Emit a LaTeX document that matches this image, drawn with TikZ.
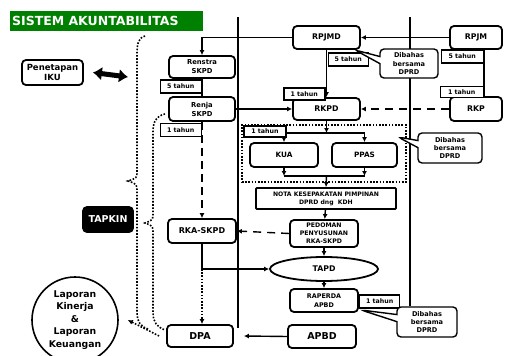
\documentclass[tikz,border=0pt]{standalone}
\usepackage{fontspec}
\setmainfont{DejaVu Sans}
\usepackage{tikz}
\usetikzlibrary{shapes,arrows,arrows.meta}
\usetikzlibrary{shapes.callouts}
\usetikzlibrary{calc}
\usetikzlibrary{positioning}
\definecolor{judulhijau}{RGB}{0,128,0}
\tikzstyle{block} = [draw, line width=1.8pt, rounded corners=4pt, fill=white,
    align=center, inner sep=1pt, font=\fontsize{7.8}{9.5}\selectfont\bfseries]
\tikzstyle{tahun} = [draw, line width=1.4pt, fill=white, inner sep=0pt,
    minimum width=41pt, minimum height=12pt, font=\fontsize{6.3}{7}\selectfont\bfseries]
\tikzstyle{dibahas} = [rectangle callout, draw, line width=1.4pt, rounded corners=4pt,
    fill=white, align=center, inner sep=0pt, font=\fontsize{6.6}{8.3}\selectfont\bfseries]
\tikzstyle{sep} = [draw, line width=1.8pt]
\tikzstyle{line} = [draw, line width=1.4pt]
\tikzstyle{titik} = [line width=1.6pt, dash pattern=on 1.6pt off 1.6pt]
\tikzstyle{fatarrow} = [line width=5pt, {Latex[length=9pt,width=14pt]}-{Latex[length=9pt,width=14pt]}]

\begin{document}
\begin{tikzpicture}[x=1pt, y=-1pt, >={Latex[length=5pt,width=5pt]}]
    \useasboundingbox (0,0) rectangle (509,356);
    % separator lines
    \draw[sep] (238,17) -- (238,328);
    \draw[sep] (410,17) -- (410,306);

    % title
    \node[fill=judulhijau, text=white, anchor=west, minimum width=193pt, minimum height=20pt,
        inner sep=2pt, text width=189pt, font=\fontsize{12.5}{14}\selectfont\bfseries] (title) at (10,21) {SISTEM AKUNTABILITAS};

    % We start by placing the blocks
    \node[block, minimum width=67pt, minimum height=23pt] (rpjmd) at (326.5,37.5) {RPJMD};
    \node[block, minimum width=52pt, minimum height=23pt] (rpjm) at (476,37.5) {RPJM};
    \node[block, minimum width=67pt, minimum height=22pt] (rkpd) at (326.5,109) {RKPD};
    \node[block, minimum width=52pt, minimum height=24pt] (rkp) at (476,109) {RKP};

    \node[block, minimum width=66pt, minimum height=22pt,
        font=\fontsize{6.8}{9}\selectfont\bfseries] (renstra) at (202,67) {Renstra\\SKPD};
    \node[block, minimum width=66pt, minimum height=24pt,
        font=\fontsize{6.8}{9}\selectfont\bfseries] (renja) at (202,109) {Renja\\SKPD};
    \node[block, minimum width=68pt, minimum height=24pt, font=\fontsize{8}{9}\selectfont\bfseries] (rka) at (202,231) {RKA-SKPD};
    \node[block, minimum width=66pt, minimum height=22pt, font=\fontsize{9.5}{12}\selectfont\bfseries] (dpa) at (200,336) {DPA};

    \node[draw, titik, minimum width=164pt, minimum height=57pt] (kuabox) at (324,153.5) {};
    \node[block, minimum width=68pt, minimum height=24pt, font=\fontsize{7.3}{9}\selectfont\bfseries] (kua) at (284,155) {KUA};
    \node[block, minimum width=65pt, minimum height=24pt, font=\fontsize{7.3}{9}\selectfont\bfseries] (ppas) at (364.5,155) {PPAS};
    \coordinate (split) at (326.5,133);
    \coordinate (merge) at (326.5,176);

    \node[block, rounded corners=1pt, minimum width=140pt, minimum height=21pt,
        font=\fontsize{6.1}{8}\selectfont\bfseries] (nota) at (326,198.5) {NOTA KESEPAKATAN PIMPINAN\\DPRD dng\ \ KDH};
    \node[block, minimum width=68pt, minimum height=27pt,
        font=\fontsize{6.2}{8}\selectfont\bfseries] (pedoman) at (324,233.5) {PEDOMAN\\PENYUSUNAN\\RKA-SKPD};
    \node[block, ellipse, minimum width=108pt, minimum height=24pt] (tapd) at (324,269) {TAPD};
    \node[block, minimum width=68pt, minimum height=23pt,
        font=\fontsize{6.4}{8.5}\selectfont\bfseries] (raperda) at (324,300.5) {RAPERDA\\APBD};
    \node[block, minimum width=68pt, minimum height=23pt,
        font=\fontsize{9.5}{12}\selectfont\bfseries] (apbd) at (322,336.5) {APBD};

    \node[block, minimum width=61pt, minimum height=25pt,
        font=\fontsize{8.5}{9.5}\selectfont\bfseries] (iku) at (52.5,72.5) {Penetapan\\IKU};
    \node[block, fill=black, text=white, minimum width=50pt, minimum height=25pt,
        font=\fontsize{9.5}{10}\selectfont\bfseries] (tapkin) at (108,219.5) {TAPKIN};
    \node[draw, circle, line width=1.6pt, minimum size=86pt, inner sep=0pt, align=center,
        font=\fontsize{9.3}{12.4}\selectfont\bfseries] (lap) at (75,320) {Laporan\\Kinerja\\\&\\Laporan\\Keuangan};
    \coordinate (ikuarrow) at (128,77);

    % connectors
    \draw[line,->] (rpjm.west) -- (rpjmd.east);
    \draw[line,->] (rpjmd.west) -| (renstra.north);
    \draw[line,->] (rpjmd.south) -- (rkpd.north);
    \draw[line] ([xshift=8pt]rpjm.south) -- ([xshift=8pt]rkp.north);
    \draw[line] (renstra.south) -- (renja.north);
    \draw[line,->] (renja.east) -- (rkpd.west);
    \draw[line,->,dash pattern=on 8pt off 6pt] (rkp.west) -- (rkpd.east);
    \draw[line,->,dash pattern=on 8pt off 5pt] (renja.south) -- (rka.north);
    \draw[line,->,dash pattern=on 8pt off 6pt] (pedoman.west) -- (rka.east);
    \draw[line,->] (rkpd.south) -- (split);
    \draw[line,->] (split) -| (kua.north);
    \draw[line,->] (split) -| (ppas.north);
    \draw[line,->] (kua.south) -- (kua.south |- merge);
    \draw[line,->] (ppas.south) -- (ppas.south |- merge);
    \draw[line] (kua.south |- merge) -- (ppas.south |- merge);
    \draw[line,->] (merge) -- (nota.north);
    \draw[line,->] (nota) -- (pedoman);
    \draw[line,->] (pedoman) -- (tapd);
    \draw[line,->] (tapd) -- (raperda);
    \draw[line,->] (rka.south) |- (tapd.west);
    \draw[titik,->] (rka.south |- tapd.west) -- (rka.south |- dpa.north);
    \draw[line,->] (apbd.west) -- ([xshift=10pt]dpa.east);
    \draw[titik,->] ([xshift=-7pt]dpa.west) -- ([xshift=9pt]lap.east);
    \draw[fatarrow] ([xshift=9pt]iku.east) -- (ikuarrow);

    % dotted braces
    \draw[titik] (145,36) .. controls (138,38) and (137,44) .. (137,55) -- (137,171)
        .. controls (137,178) .. (128,181) .. controls (137,184) .. (137,192) -- (137,312)
        .. controls (137,322) and (141,327) .. (148,329);
    \draw[titik] (165,114) .. controls (156,116) and (153,122) .. (153,132) -- (153,213)
        .. controls (153,220) .. (145,223) .. controls (153,226) .. (153,233) -- (153,313)
        .. controls (153,322) and (157,327) .. (165,330);

    % tahun labels
    \node[tahun, anchor=west, minimum width=40pt, minimum height=13pt] (t5a) at (327.5,59.5) {5 tahun};
    \node[tahun, anchor=east, minimum width=41pt] (t1b) at (325.5,94) {1 tahun};
    \node[tahun, anchor=east, minimum width=42pt, minimum height=13pt] (t5b) at (484,56.5) {5 tahun};
    \node[tahun, anchor=east, minimum width=43pt, minimum height=11pt] (t1c) at (484,92) {1 tahun};
    \node[tahun, anchor=east, minimum height=13pt] (t5c) at (202,86.5) {5 tahun};
    \node[tahun, anchor=east, minimum height=13pt] (t1a) at (202,130) {1 tahun};
    \node[tahun, minimum width=42pt, minimum height=11pt] (t1d) at (265,131.5) {1 tahun};
    \node[tahun, anchor=west, minimum width=40pt, minimum height=13pt] (t1e) at (359,301.5) {1 tahun};

    % callouts
    \node[dibahas, minimum width=58pt, minimum height=29pt, callout absolute pointer={(355,50)}] (dib1) at (409,63.5) {Dibahas\\bersama\\DPRD};
    \node[dibahas, minimum width=64pt, minimum height=30pt, callout absolute pointer={(398,137)}] (dib2) at (450,148) {Dibahas\\bersama\\DPRD};
    \node[dibahas, minimum width=60pt, minimum height=30pt, callout absolute pointer={(361,310)}] (dib3) at (427,322) {Dibahas\\bersama\\DPRD};
\end{tikzpicture}
\end{document}
